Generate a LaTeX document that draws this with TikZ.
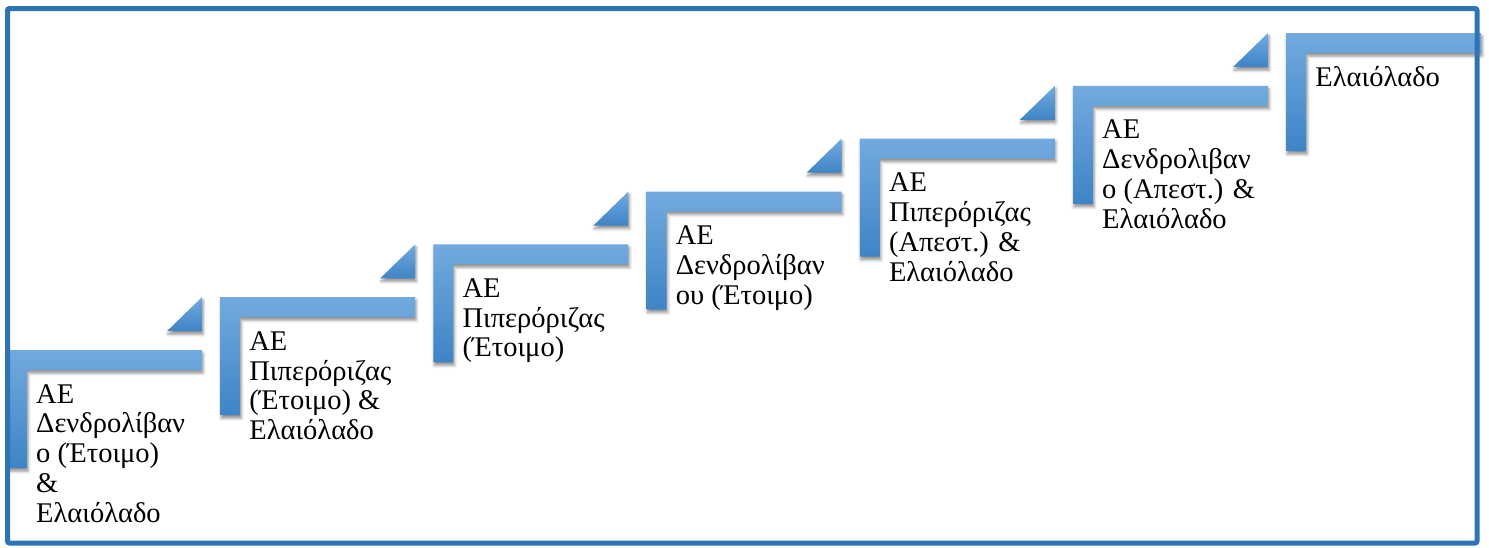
\documentclass[tikz,border=0pt]{standalone}
\usepackage{fontspec}
\setmainfont{Liberation Serif}
\usetikzlibrary{shadows.blur}
\definecolor{bordercol}{HTML}{2E74B5}
\definecolor{steptop}{HTML}{72AADF}
\definecolor{stepbot}{HTML}{3E84C6}
\tikzset{
  stepfill/.style={top color=steptop, bottom color=stepbot, draw=none,
    blur shadow={shadow xshift=1pt, shadow yshift=-3pt, shadow blur radius=3pt, shadow opacity=45}},
  lbl/.style={anchor=base west, inner sep=0pt, font=\fontsize{28.5pt}{29.8pt}\selectfont},
  frameline/.style={draw=bordercol, line width=5pt, rounded corners=2pt}
}
\newcommand{\lbltext}[1]{\parbox[t]{220pt}{\raggedright #1}}
\begin{document}
\begin{tikzpicture}[x=1pt,y=-1pt]
\useasboundingbox (0,0) rectangle (1489,547);
% steps (L shapes)
\foreach \i in {0,...,6} {
  \pgfmathsetmacro\xl{7+213.2*\i}
  \pgfmathsetmacro\yt{350-52.83*\i}
  \path[stepfill] (\xl,\yt) -- ++(195,0) -- ++(0,20) -- ++(-175,0) -- ++(0,98) -- ++(-20,0) -- cycle;
}
% triangles
\foreach \i in {0,...,5} {
  \pgfmathsetmacro\xr{7+213.2*\i+195}
  \pgfmathsetmacro\ytt{350-52.83*(\i+1)}
  \path[stepfill] (\xr,\ytt) -- ++(0,34) -- ++(-35,0) -- cycle;
}
% labels
\node[lbl] (t1) at (36,403) {\lbltext{ΑΕ\\Δενδρολίβαν\\ο (Έτοιμο)\\\&\\Ελαιόλαδο}};
\node[lbl] (t2) at (249.2,350.2) {\lbltext{ΑΕ\\Πιπερόριζας\\(Έτοιμο) \&\\Ελαιόλαδο}};
\node[lbl] (t3) at (462.4,297.3) {\lbltext{ΑΕ\\Πιπερόριζας\\(Έτοιμο)}};
\node[lbl] (t4) at (675.6,244.5) {\lbltext{ΑΕ\\Δενδρολίβαν\\ου (Έτοιμο)}};
\node[lbl] (t5) at (888.8,191.7) {\lbltext{ΑΕ\\Πιπερόριζας\\(Απεστ.) \&\\Ελαιόλαδο}};
\node[lbl] (t6) at (1102,138.9) {\lbltext{ΑΕ\\Δενδρολιβαν\\ο (Απεστ.) \&\\Ελαιόλαδο}};
\node[lbl] (t7) at (1315.2,86) {\lbltext{Ελαιόλαδο}};
% frame
\path[frameline] (7.5,8.5) rectangle (1477,543);
\end{tikzpicture}
\end{document}
